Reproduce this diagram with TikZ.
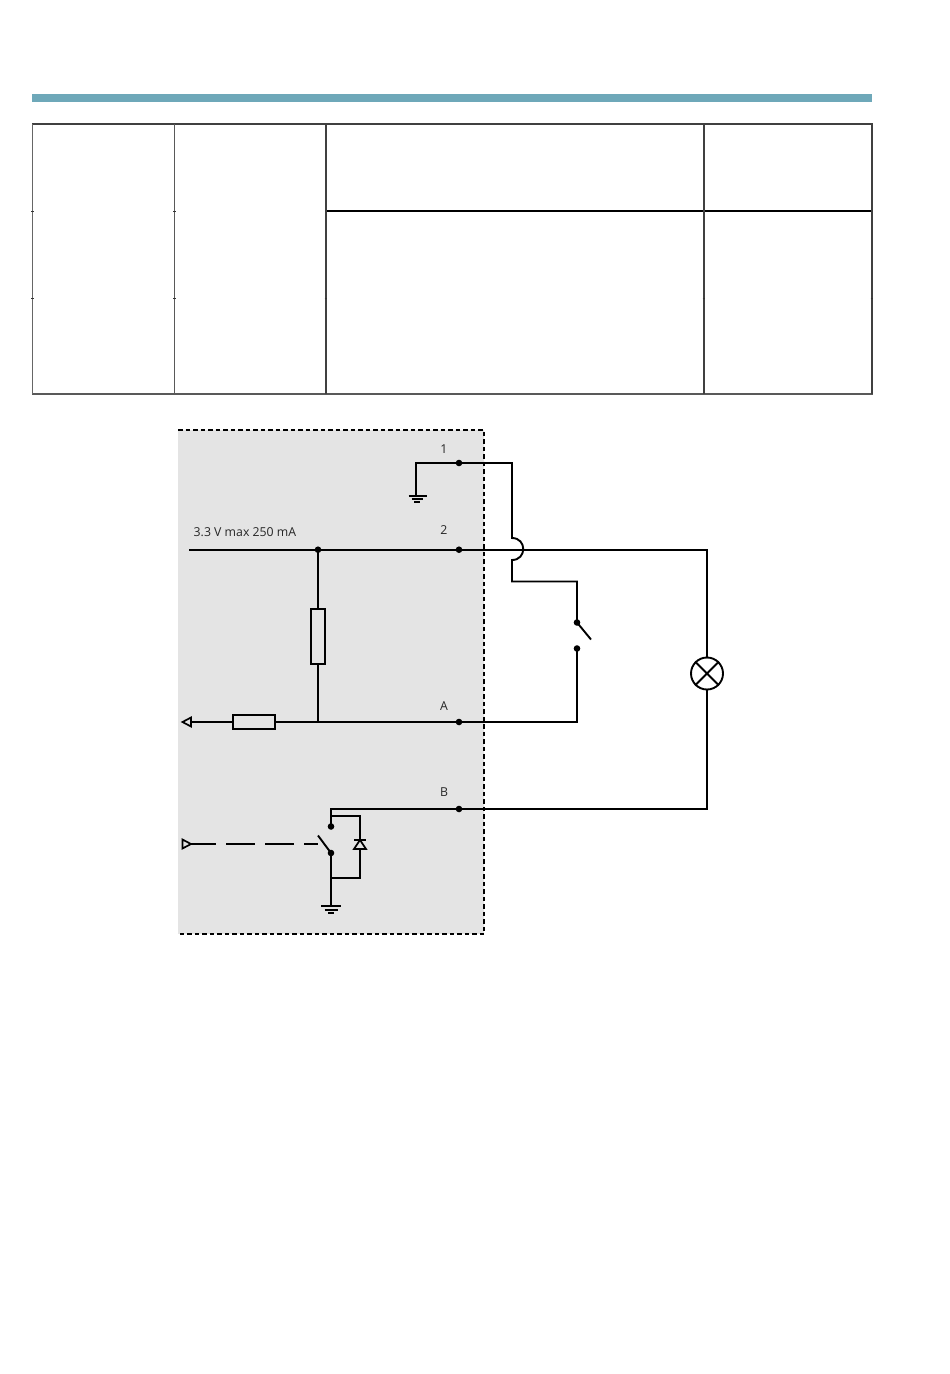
\documentclass[tikz,border=0pt]{standalone}
\usepackage{fontspec}
\setmainfont{Open Sans}
\tikzset{
  wire/.style={draw=black,line width=1.9pt,line join=miter},
  gbar/.style={draw=black,line width=2pt},
  tline/.style={draw=#1,line width=1.3pt},
  pin/.style={circle,fill=black,draw=none,minimum size=6.6pt,inner sep=0pt},
  pinlabel/.style={font=\fontsize{12.3}{14}\selectfont,text=black!85,inner sep=0pt},
  res/.style={draw=black,line width=1.7pt,fill=#1,inner sep=0pt},
  tip/.style={draw=black,line width=1.7pt,fill=#1,line join=miter},
}
\begin{document}
\begin{tikzpicture}[x=1pt,y=-1pt]
\useasboundingbox (0,0) rectangle (950,1374);
% header bar
\fill[fill=white] (0,0) rectangle (950,1374);
\fill[fill={rgb,255:red,110;green,168;blue,185}] (32,94) rectangle (872,102);
% table
\draw[tline=black!75] (32,124) -- (872.5,124);
\draw[tline=black!65] (32,394) -- (872.5,394);
\draw[draw=black,line width=1.1pt] (326,211) -- (872.5,211);
\foreach \xx/\cc in {32.5/60,174.5/65,326/75,704/75,872/75}
  \draw[tline=black!\cc] (\xx,124) -- (\xx,394);
\foreach \xx in {326,704,872}
  \draw[draw=black!80,line width=0.8pt] (\xx-1.3,298) -- (\xx+1.3,298);
\foreach \xx in {32.5,174.5}
  \draw[draw=black!80,line width=0.8pt] (\xx-1.3,298) -- (\xx+1.3,298) (\xx-1.3,211) -- (\xx+1.3,211);
% interface box
\fill[fill={rgb,255:red,228;green,228;blue,228}] (178,430) rectangle (484,934);
\draw[line width=1.8pt,dash pattern=on 4.5pt off 3pt] (178,430) -- (484,430) -- (484,934) -- (178,934);
% pins
\node[pin] (p1) at (459,463) {};
\node[pin] (p2) at (459,549.7) {};
\node[pin] (pA) at (459,722) {};
\node[pin] (pB) at (459,809) {};
\node[pin] (j2) at (318,549.7) {};
\node[pin] (s1) at (577,622.5) {};
\node[pin] (s2) at (577,648.5) {};
\node[pin] (r1) at (331,826.5) {};
\node[pin] (r2) at (331,853) {};
\node[pinlabel] (l1) at (444,449) {1};
\node[pinlabel] (l2) at (444,530) {2};
\node[pinlabel] (lA) at (444,706) {A};
\node[pinlabel] (lB) at (444,792) {B};
\node[pinlabel,anchor=west] (lv) at (193.5,532.5) {3.3 V max 250 mA};
% components
\node[res=none,minimum width=14pt,minimum height=55pt] (R1) at (318,636.5) {};
\node[res=none,minimum width=42pt,minimum height=14pt] (R2) at (254,722) {};
\node[circle,draw=black,line width=1.9pt,minimum size=32pt,inner sep=0pt] (L) at (707,673.5) {};
\draw[wire] (L.north west) -- (L.south east) (L.north east) -- (L.south west);
% named wire corners
\coordinate (g1) at (416,495);
\coordinate (c1) at (416,463);
\coordinate (h1) at (512,463);
\coordinate (h2) at (512,538);
\coordinate (h3) at (512,560);
\coordinate (h4) at (512,581.5);
\coordinate (h5) at (577,581.5);
\coordinate (arm1) at (591,639.5);
\coordinate (Acorner) at (577,722);
\coordinate (left2) at (189,549.7);
\coordinate (right2) at (707,549.7);
\coordinate (rightB) at (707,809);
\coordinate (cB) at (331,809);
\coordinate (jR) at (318,722);
\coordinate (tipL) at (191,722);
\coordinate (tipR) at (191,844);
\coordinate (arm2) at (318,835.5);
\coordinate (g2) at (331,906);
\coordinate (d1) at (331,816);
\coordinate (d2) at (360,816);
\coordinate (d3) at (360,878);
\coordinate (d4) at (331,878);
\coordinate (dTop) at (360,840);
\coordinate (dBot) at (360,849);
% wires
\draw[wire] (p1.center) -- (c1) -- (g1);
\draw[wire] (p1.center) -- (h1) -- (h2) .. controls (527,538) and (527,560) .. (h3) -- (h4) -- (h5) -- (s1.center);
\draw[wire] (left2) -- (j2.center) -- (p2.center) -- (right2) -- (L.north);
\draw[wire] (L.south) -- (rightB) -- (pB.center) -- (cB) -- (r1.center);
\draw[wire] (s1.center) -- (arm1);
\draw[wire] (s2.center) -- (Acorner) -- (pA.center) -- (jR);
\draw[wire] (j2.center) -- (R1.north);
\draw[wire] (R1.south) -- (jR);
\draw[wire] (jR) -- (R2.east);
\draw[wire] (R2.west) -- (tipL);
\draw[wire] (r2.center) -- (arm2);
\draw[wire] (r2.center) -- (g2);
\draw[wire] (d1) -- (d2) -- (dTop);
\draw[wire] (dBot) -- (d3) -- (d4);
\draw[wire,dash pattern=on 25pt off 10pt on 29pt off 10pt on 29pt off 10pt on 14pt off 0pt] (tipR) -- (arm2 |- tipR);
% diode
\draw[tip=none] (354,849) -- (366,849) -- (360,840) -- cycle;
\draw[wire] (354,840) -- (366,840);
% arrow tips
\draw[tip=none] (191,717.5) -- (182.5,722) -- (191,726.5) -- cycle;
\draw[tip=none] (182.5,839.5) -- (191,844) -- (182.5,848.5) -- cycle;
% grounds
\draw[gbar] (408.5,495.5) -- (426.5,495.5);
\draw[gbar] (411.5,498.5) -- (422.5,498.5);
\draw[gbar] (414,501.5) -- (420,501.5);
\draw[gbar] (321,906) -- (341,906);
\draw[gbar] (324.5,909.5) -- (337.5,909.5);
\draw[gbar] (328,912.5) -- (334,912.5);
\end{tikzpicture}
\end{document}
